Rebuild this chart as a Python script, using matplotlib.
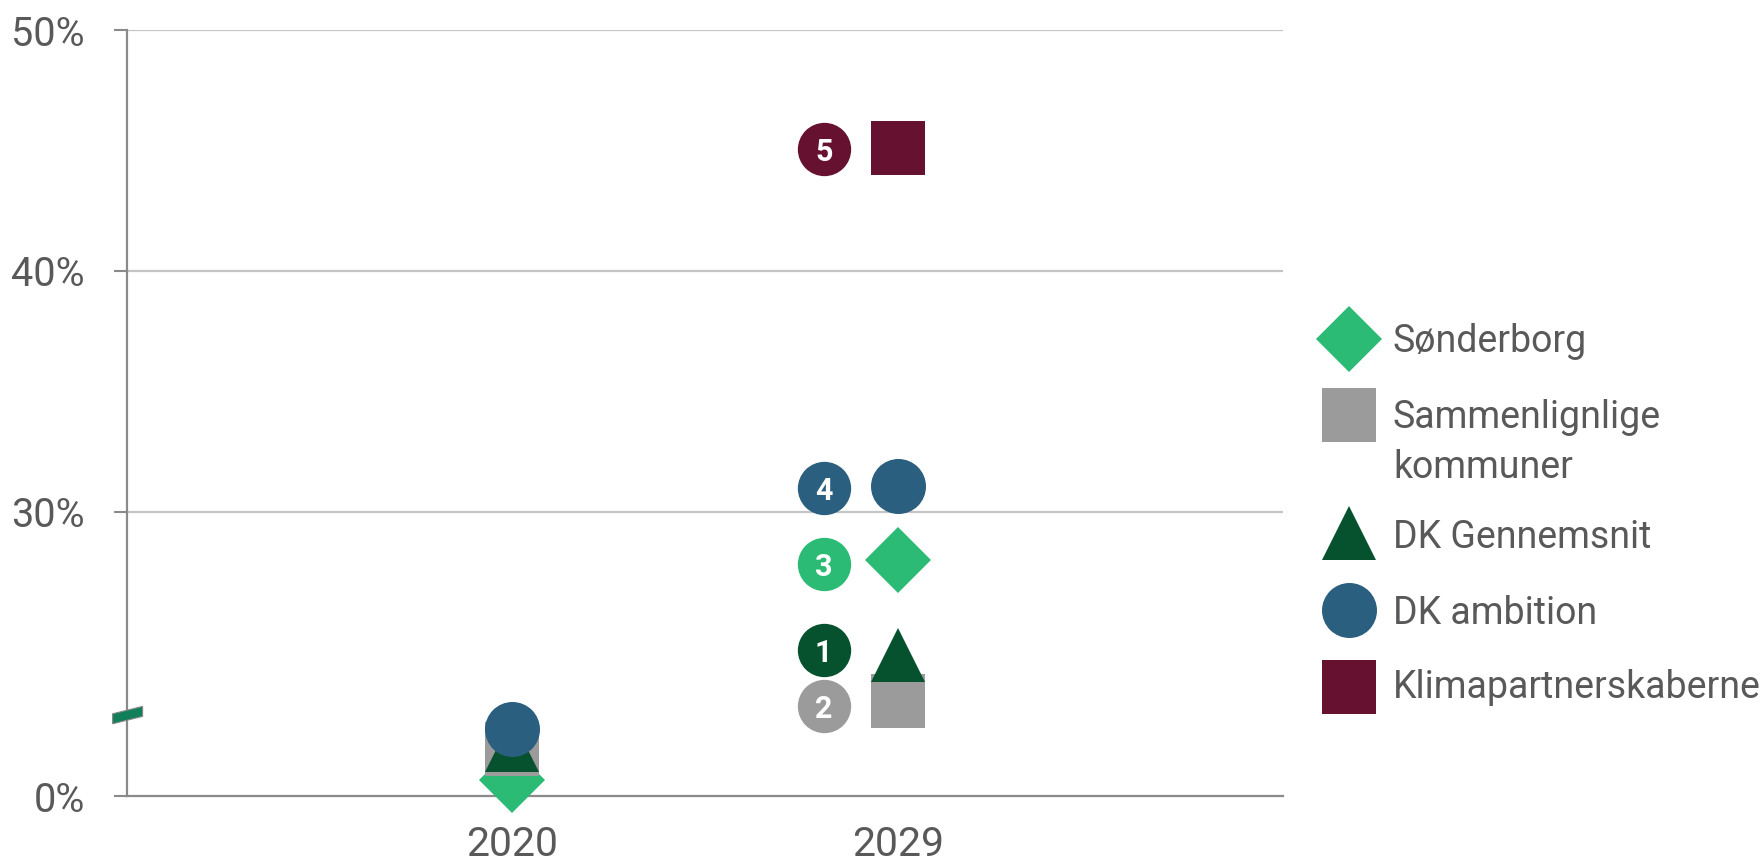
import matplotlib
matplotlib.use("Agg")
import matplotlib.pyplot as plt
from matplotlib.patches import Polygon
from matplotlib.transforms import IdentityTransform
import numpy as np

# ---------------- data ----------------
categories = ["2020", "2029"]
series_names = ["Sønderborg", "Sammenlignlige\nkommuner", "DK Gennemsnit",
                "DK ambition", "Klimapartnerskaberne"]
# values on the plotted (broken) scale; lowest tick is labelled "0%"
sonderborg = [18.86, 27.97]
sammenlignlige = [20.15, 22.14]
dk_gennemsnit = [20.31, 24.05]
dk_ambition = [20.99, 31.07]
klimapartnerskaberne = [np.nan, 45.10]
badge_numbers = [3, 2, 1, 4, 5]
badge_values = [27.84, 21.93, 24.24, 30.96, 45.05]
ytick_values = [18.19, 30, 40, 50]
ytick_labels = ["0%", "30%", "40%", "50%"]
axis_break_value = 21.55

# ---------------- style ----------------
colors = ["#2bbb74", "#9b9b9b", "#06522e", "#2a5f7f", "#671131"]
markers = ["D", "s", "^", "o", "s"]
msizes = [33.4, 39.1, 38.9, 39.6, 39.1]
text_color = "#595959"
FONT = ["Roboto", "DejaVu Sans"]
plt.rcParams["font.family"] = FONT

W, H = 1765, 861
fig = plt.figure(figsize=(W / 100, H / 100), dpi=100)
ax_left, ax_right, ax_top, ax_bottom = 127, 1283, 30, 796
ax = fig.add_axes([ax_left / W, 1 - ax_bottom / H,
                   (ax_right - ax_left) / W, (ax_bottom - ax_top) / H])

x = np.arange(1, len(categories) + 1)
all_series = [sonderborg, sammenlignlige, dk_gennemsnit, dk_ambition, klimapartnerskaberne]
for i, vals in enumerate(all_series):
    ax.plot(x, vals, linestyle="none", marker=markers[i], ms=msizes[i],
            color=colors[i], mec=colors[i], mew=0, clip_on=False, zorder=3 + i)

# numbered badges for 2029
badge_offset = -0.192
for i, (num, v) in enumerate(zip(badge_numbers, badge_values)):
    ax.plot(x[1] + badge_offset, v, marker="o", ms=38.4, color=colors[i], mew=0,
            linestyle="none", zorder=10)
    ax.text(x[1] + badge_offset, v, str(num), ha="center", va="center_baseline",
            color="white", fontsize=22, fontweight="bold", zorder=11)

ax.set_xlim(0, 3)
ax.set_ylim(ytick_values[0], 50)
ax.set_xticks(x)
ax.set_xticklabels(categories)
ax.set_yticks(ytick_values)
ax.set_yticklabels(ytick_labels)
ax.tick_params(axis="x", length=0, pad=21, labelsize=29.5, labelcolor=text_color)
ax.tick_params(axis="y", length=9.4, width=1.5, color="#8a8a8a", pad=21,
               labelsize=28.5, labelcolor=text_color)

for yv in ytick_values[1:]:
    ax.axhline(yv, color="#c4c4c4", lw=1.6, zorder=1)

for s in ["top", "right"]:
    ax.spines[s].set_visible(False)
for s in ["left", "bottom"]:
    ax.spines[s].set_color("#8a8a8a")
    ax.spines[s].set_linewidth(1.6)

# axis break mark
fig.canvas.draw()
cx, cy = ax.transData.transform((0, axis_break_value))
cx += 0.6
hw, hh, sl = 15, 5, 3.7
verts = [(cx - hw, cy - sl - hh), (cx + hw, cy + sl - hh),
         (cx + hw, cy + sl + hh), (cx - hw, cy - sl + hh)]
fig.patches.append(Polygon(verts, closed=True, facecolor="#117f5a",
                           edgecolor="#888888", lw=0.8,
                           transform=IdentityTransform(), figure=fig, zorder=20))

# legend (manual)
lax = fig.add_axes([0, 0, 1, 1])
lax.set_xlim(0, W)
lax.set_ylim(H, 0)
lax.axis("off")
leg_y = [338.5, 415, 533, 610, 686.5]
text_y = [341, 418, 537, 613, 688]
for i in range(len(series_names)):
    lax.plot(1348.7, leg_y[i], marker=markers[i], ms=msizes[i], color=colors[i],
             mew=0, linestyle="none")
    name = series_names[i]
    lines = name.split("\n")
    for j, ln in enumerate(lines):
        lax.text(1393, text_y[i] + j * 50, ln, ha="left", va="center",
                 fontsize=27, color=text_color)

fig.savefig("out.png", dpi=100)
